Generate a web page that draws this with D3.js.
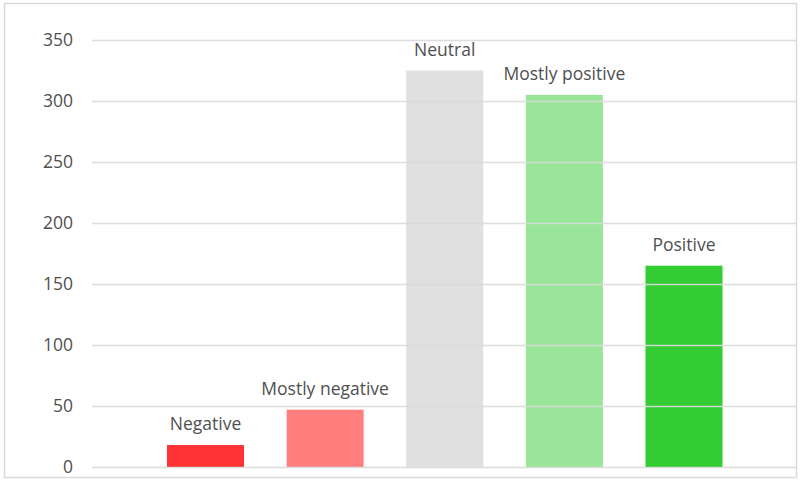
<!DOCTYPE html>
<html>
<head>
<meta charset="utf-8">
<script src="https://cdn.jsdelivr.net/npm/d3@7"></script>
<style>
  html, body { margin: 0; padding: 0; background: #fff; }
  svg { display: block; }
  text { font-family: "Open Sans", sans-serif; fill: #505050; }
</style>
</head>
<body>
<svg id="chart" width="800" height="481"></svg>
<script>
const categories = ["Negative", "Mostly negative", "Neutral", "Mostly positive", "Positive"];
const values = [18, 47, 325, 305, 165];
const barColors = ["#FF3333", "#FF0000", "#C2C2C2", "#33CC33", "#33CC33"];
const barOpacity = [1, 0.5, 0.5, 0.5, 1];
const yTicks = [0, 50, 100, 150, 200, 250, 300, 350];

const svg = d3.select("#chart");

// outer border
svg.append("rect")
  .attr("x", 4.5).attr("y", 3.5)
  .attr("width", 792).attr("height", 474)
  .attr("fill", "#fff")
  .attr("stroke", "#d9d9d9").attr("stroke-width", 1.5);

const y = d3.scaleLinear().domain([0, 350]).range([467, 40]);
const x = d3.scaleBand().domain(categories).range([145.7, 743.8]).paddingInner(0.356).paddingOuter(0.178);

const gridLeft = 92, gridRight = 796;

// bars
svg.append("g").selectAll("rect")
  .data(categories)
  .join("rect")
  .attr("x", d => x(d))
  .attr("width", x.bandwidth())
  .attr("y", (d, i) => y(values[i]))
  .attr("height", (d, i) => y(0) - y(values[i]))
  .attr("fill", (d, i) => barColors[i])
  .attr("fill-opacity", (d, i) => barOpacity[i]);

// gridlines (drawn over to show through translucent bars)
const grid = svg.append("g")
  .attr("transform", `translate(${gridLeft},0)`)
  .call(d3.axisLeft(y).tickValues(yTicks).tickSize(-(gridRight - gridLeft)).tickFormat(d3.format("d")).tickPadding(19));
grid.select(".domain").remove();
grid.selectAll(".tick line").attr("stroke", "#d9d9d9").attr("stroke-width", 1.5).attr("stroke-opacity", 0.9);
grid.selectAll(".tick text")
  .attr("font-family", "Open Sans, sans-serif")
  .attr("font-size", 17.5)
  .attr("fill", "#505050");

// labels above bars
svg.append("g").selectAll("text")
  .data(categories)
  .join("text")
  .attr("x", d => x(d) + x.bandwidth() / 2)
  .attr("y", (d, i) => y(values[i]) - 15)
  .attr("text-anchor", "middle")
  .attr("font-size", 17.5)
  .text(d => d);
</script>
</body>
</html>
